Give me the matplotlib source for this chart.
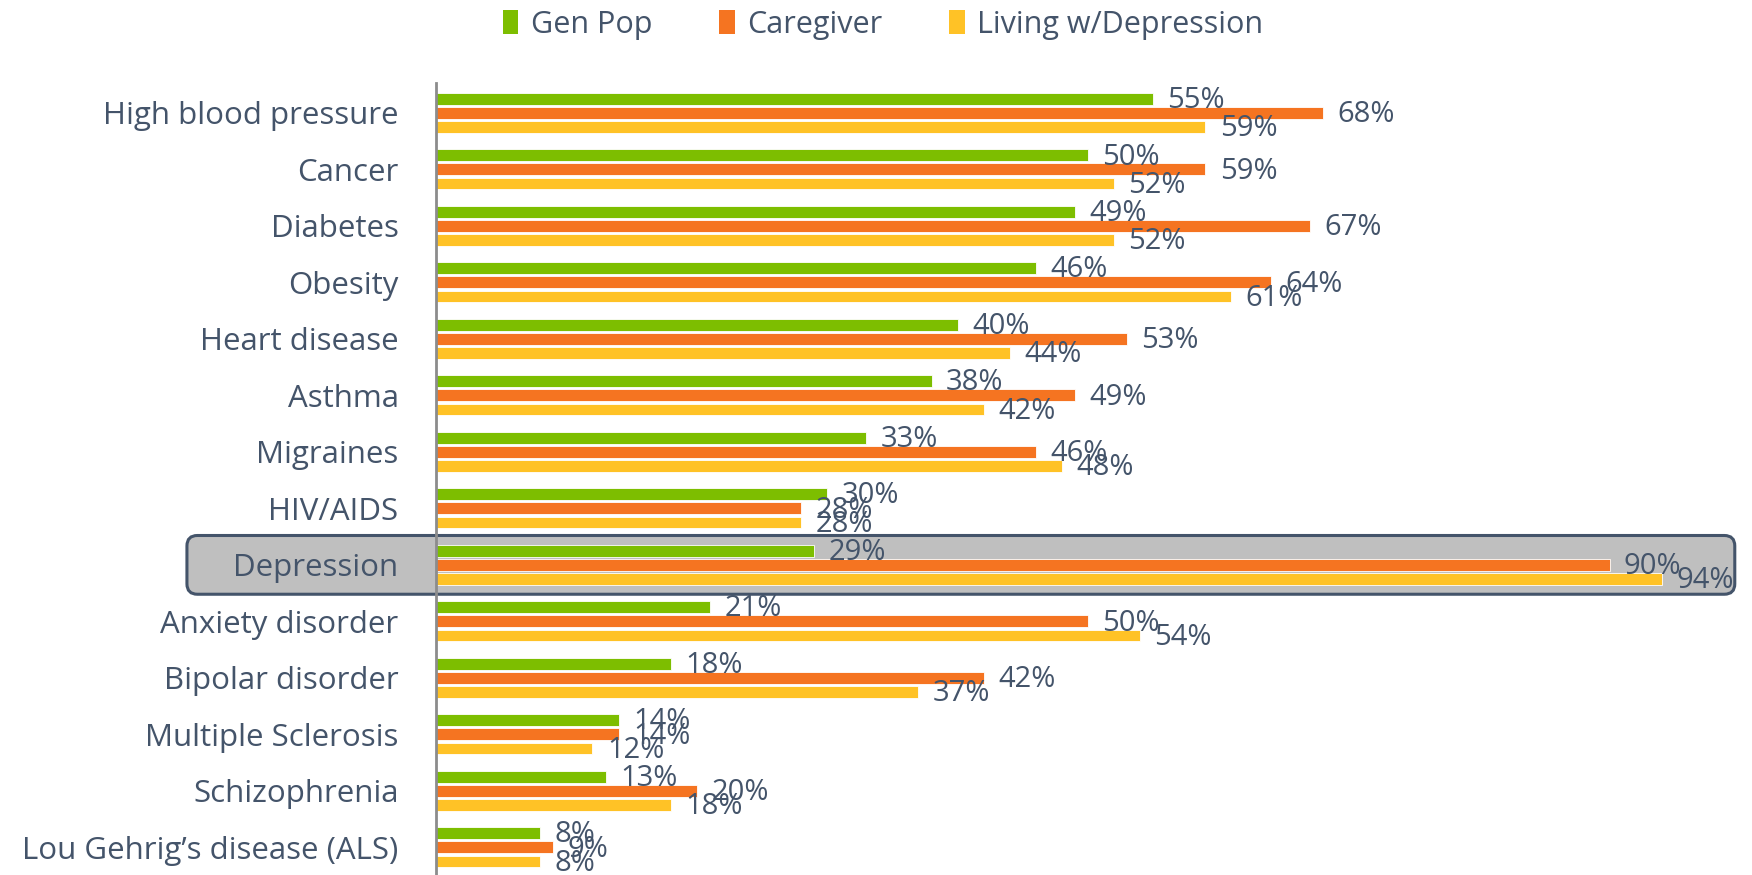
import numpy as np
import matplotlib
matplotlib.use('Agg')
import matplotlib.pyplot as plt
from matplotlib.patches import FancyBboxPatch, Patch

categories = ["High blood pressure", "Cancer", "Diabetes", "Obesity", "Heart disease",
              "Asthma", "Migraines", "HIV/AIDS", "Depression", "Anxiety disorder",
              "Bipolar disorder", "Multiple Sclerosis", "Schizophrenia",
              "Lou Gehrig\u2019s disease (ALS)"]
gen_pop = [55, 50, 49, 46, 40, 38, 33, 30, 29, 21, 18, 14, 13, 8]
caregiver = [68, 59, 67, 64, 53, 49, 46, 28, 90, 50, 42, 14, 20, 9]
living_dep = [59, 52, 52, 61, 44, 42, 48, 28, 94, 54, 37, 12, 18, 8]
series_names = ["Gen Pop", "Caregiver", "Living w/Depression"]
highlight = "Depression"

colors = ['#7DBE00', '#F57421', '#FFC226']
txt = '#44546A'
plt.rcParams['font.family'] = ['Open Sans', 'DejaVu Sans']

fig = plt.figure(figsize=(17.52, 8.75), dpi=100)
ax = fig.add_axes([436/1752, 0, 1304/1752, 792/875])

y = np.arange(len(categories))
off = 0.25
h = 0.21
for k, vals in enumerate([gen_pop, caregiver, living_dep]):
    pos = y + (k - 1) * off
    ax.barh(pos, vals, height=h, color=colors[k], edgecolor='white', linewidth=0.6, zorder=3)
    for p, v in zip(pos, vals):
        ax.text(v + 1.1, p + 0.03, f"{v}%", va='center', ha='left', fontsize=21,
                color=txt, zorder=4)

ax.set_xlim(0, 100)
ax.set_ylim(len(categories) - 0.51, -0.53)
ax.set_yticks(y)
ax.set_yticklabels(categories, fontsize=22.5, color=txt)
ax.tick_params(axis='y', length=0, pad=27)
ax.set_xticks([])
for s in ['top', 'right', 'bottom']:
    ax.spines[s].set_visible(False)
ax.spines['left'].set_color('#8C8C8C')
ax.spines['left'].set_linewidth(2)
ax.spines['left'].set_zorder(5)

# highlight box around the Depression row
i = categories.index(highlight)
box = FancyBboxPatch((-19.1, i - 0.52), 118.7, 1.04,
                     boxstyle="round,pad=0,rounding_size=0.8", mutation_aspect=0.23,
                     facecolor='#BFBFBF', edgecolor='#44546A', linewidth=2.2,
                     transform=ax.transData, clip_on=False, zorder=1)
ax.add_patch(box)

handles = [Patch(facecolor=c, label=n) for c, n in zip(colors, series_names)]
leg = fig.legend(handles=handles, loc='center', bbox_to_anchor=(0.504, 0.972), ncol=3,
                 frameon=False, fontsize=22, handlelength=0.5, handleheight=0.8,
                 handletextpad=0.4, columnspacing=2.2)
for t in leg.get_texts():
    t.set_color(txt)

fig.savefig('out.png', dpi=100)
